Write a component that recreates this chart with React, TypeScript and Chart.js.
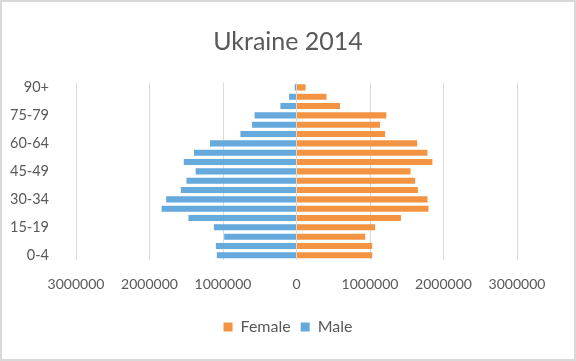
import React, { useEffect, useRef } from "react";
import { Chart, registerables } from "chart.js";

Chart.register(...registerables);

const ageGroups = [
  "0-4", "5-9", "10-14", "15-19", "20-24", "25-29", "30-34", "35-39", "40-44",
  "45-49", "50-54", "55-59", "60-64", "65-69", "70-74", "75-79", "80-84", "85-89", "90+",
];

const female = [
  1030000, 1030000, 935000, 1070000, 1421000, 1795000, 1782000, 1651000, 1615000,
  1552000, 1849000, 1782000, 1642000, 1205000, 1137000, 1223000, 592000, 408000, 124000,
];

const male = [
  1084000, 1097000, 984000, 1124000, 1470000, 1835000, 1773000, 1574000, 1497000,
  1372000, 1534000, 1395000, 1178000, 763000, 605000, 570000, 219000, 101000, 25000,
];

const xTicks = [-3000000, -2000000, -1000000, 0, 1000000, 2000000, 3000000];

const TEXT = "#595959";
const FONT = "Lato";

const borderPlugin = {
  id: "outerBorder",
  beforeDraw(chart: any) {
    const ctx = chart.ctx;
    ctx.save();
    ctx.fillStyle = "#ffffff";
    ctx.fillRect(0, 0, chart.width, chart.height);
    ctx.strokeStyle = "#d9d9d9";
    ctx.lineWidth = 2;
    ctx.strokeRect(1, 1, chart.width - 2, chart.height - 2);
    ctx.restore();
  },
};

export default function App() {
  const ref = useRef<HTMLCanvasElement>(null);

  useEffect(() => {
    if (!ref.current) return;
    const chart = new Chart(ref.current, {
      type: "bar",
      data: {
        labels: ageGroups,
        datasets: [
          {
            label: "Female",
            data: female,
            backgroundColor: "#F39443",
            barPercentage: 0.65,
            categoryPercentage: 1,
          },
          {
            label: "Male",
            data: male.map((v) => -v),
            backgroundColor: "#65A9DD",
            barPercentage: 0.65,
            categoryPercentage: 1,
          },
        ],
      },
      options: {
        indexAxis: "y",
        responsive: false,
        animation: false,
        layout: { padding: { left: 0, right: 0, top: 0, bottom: 16 } },
        scales: {
          x: {
            stacked: true,
            min: xTicks[0],
            max: xTicks[xTicks.length - 1],
            afterBuildTicks(scale: any) {
              scale.ticks = xTicks.map((v) => ({ value: v }));
            },
            afterFit(scale: any) {
              scale.height = 49;
            },
            grid: { color: "#d9d9d9", drawTicks: false, lineWidth: 1 },
            border: { display: false },
            ticks: {
              color: TEXT,
              font: { family: FONT, size: 14 },
              padding: 15.6,
              maxRotation: 0,
              callback: (v: any) => String(Math.abs(Number(v))),
            },
          },
          y: {
            stacked: true,
            reverse: true,
            afterFit(scale: any) {
              scale.width = 76;
            },
            grid: { display: false },
            border: { display: false },
            ticks: {
              color: TEXT,
              font: { family: FONT, size: 14.5 },
              padding: 19,
              autoSkip: false,
              callback: (_v: any, i: number) => (i % 3 === 0 ? ageGroups[i] : ""),
            },
          },
          yRight: {
            type: "category",
            position: "right",
            display: true,
            afterFit(scale: any) {
              scale.width = 59;
            },
            grid: { display: false },
            border: { display: false },
            ticks: { display: false },
          },
        },
        plugins: {
          title: {
            display: true,
            text: "Ukraine 2014",
            color: TEXT,
            font: { family: FONT, size: 25, weight: "normal" },
            padding: { top: 27, bottom: 25.7 },
          },
          legend: {
            position: "bottom",
            labels: {
              color: TEXT,
              font: { family: FONT, size: 16 },
              boxWidth: 9,
              boxHeight: 9,
              padding: 10,
            },
          },
          tooltip: { enabled: false },
        },
      },
      plugins: [borderPlugin],
    });
    return () => chart.destroy();
  }, []);

  return (
    <div style={{ position: "fixed", left: 0, top: 0, width: 576, height: 361, background: "#fff" }}>
      <canvas ref={ref} width={576} height={361} style={{ display: "block", width: 576, height: 361 }} />
    </div>
  );
}
